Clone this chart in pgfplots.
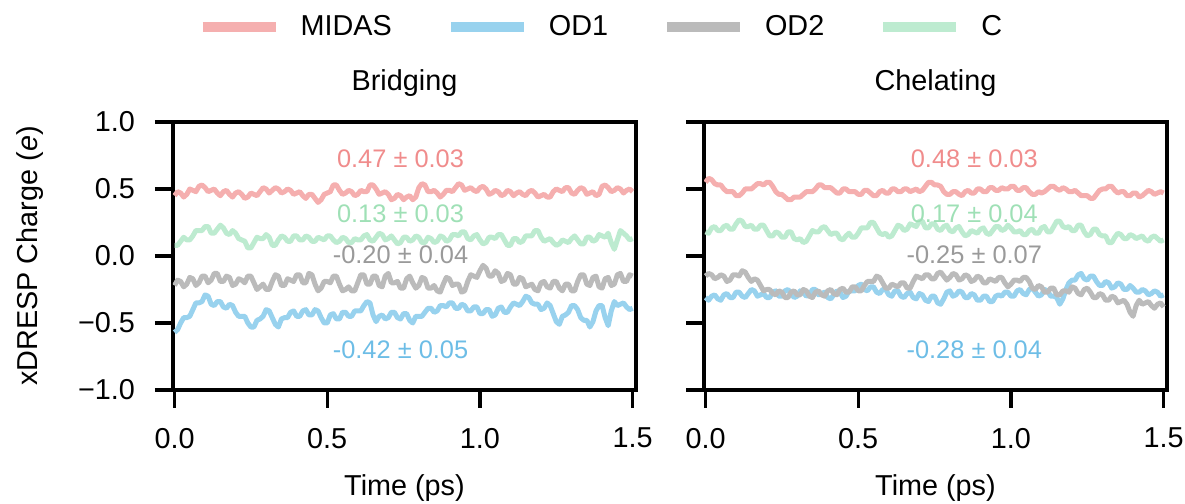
\documentclass[border=0pt]{standalone}
\usepackage{pgfplots}
\usepackage{pgfplotstable}
\pgfplotsset{compat=1.18}
\usepackage{fontspec}
\setmainfont{Liberation Sans}
\definecolor{cmidas}{HTML}{F5AFAF}
\definecolor{cod1}{HTML}{98D2EE}
\definecolor{cod2}{HTML}{BBBBBB}
\definecolor{cc}{HTML}{BDEBD0}
\definecolor{tmidas}{HTML}{F08C8C}
\definecolor{tod1}{HTML}{6DBDE6}
\definecolor{tod2}{HTML}{9A9A9A}
\definecolor{tc}{HTML}{9FE0B6}

\pgfplotstableread{
t midas od1 od2 c
0.00 0.45 -0.57 -0.22 0.08
0.01 0.48 -0.55 -0.18 0.08
0.02 0.47 -0.50 -0.19 0.11
0.03 0.44 -0.46 -0.23 0.14
0.04 0.46 -0.46 -0.21 0.12
0.05 0.50 -0.45 -0.16 0.12
0.06 0.49 -0.40 -0.17 0.15
0.07 0.48 -0.35 -0.22 0.19
0.08 0.52 -0.35 -0.20 0.19
0.09 0.53 -0.34 -0.15 0.19
0.10 0.51 -0.29 -0.15 0.22
0.11 0.48 -0.30 -0.20 0.22
0.12 0.49 -0.36 -0.18 0.17
0.13 0.50 -0.37 -0.13 0.17
0.14 0.47 -0.34 -0.13 0.20
0.15 0.45 -0.34 -0.19 0.23
0.16 0.48 -0.38 -0.19 0.21
0.17 0.49 -0.39 -0.15 0.17
0.18 0.46 -0.36 -0.16 0.16
0.19 0.44 -0.37 -0.22 0.19
0.20 0.47 -0.42 -0.21 0.17
0.21 0.48 -0.45 -0.17 0.13
0.22 0.46 -0.45 -0.18 0.12
0.23 0.43 -0.45 -0.20 0.11
0.24 0.44 -0.50 -0.15 0.06
0.25 0.47 -0.53 -0.15 0.06
0.26 0.46 -0.53 -0.20 0.10
0.27 0.45 -0.48 -0.25 0.14
0.28 0.48 -0.47 -0.23 0.13
0.29 0.51 -0.45 -0.21 0.13
0.30 0.50 -0.40 -0.25 0.16
0.31 0.47 -0.41 -0.25 0.14
0.32 0.49 -0.46 -0.19 0.08
0.33 0.51 -0.51 -0.14 0.08
0.34 0.50 -0.53 -0.15 0.12
0.35 0.47 -0.47 -0.22 0.15
0.36 0.48 -0.46 -0.22 0.14
0.37 0.50 -0.46 -0.17 0.11
0.38 0.49 -0.42 -0.18 0.11
0.39 0.46 -0.41 -0.19 0.15
0.40 0.47 -0.45 -0.14 0.15
0.41 0.48 -0.45 -0.14 0.12
0.42 0.45 -0.41 -0.20 0.12
0.43 0.43 -0.40 -0.20 0.15
0.44 0.46 -0.44 -0.13 0.14
0.45 0.46 -0.44 -0.14 0.11
0.46 0.43 -0.40 -0.21 0.11
0.47 0.40 -0.41 -0.26 0.14
0.48 0.42 -0.46 -0.24 0.13
0.49 0.46 -0.50 -0.19 0.12
0.50 0.47 -0.50 -0.19 0.15
0.51 0.48 -0.44 -0.20 0.15
0.52 0.53 -0.43 -0.15 0.12
0.53 0.53 -0.47 -0.15 0.10
0.54 0.49 -0.47 -0.21 0.11
0.55 0.46 -0.42 -0.26 0.14
0.56 0.47 -0.42 -0.25 0.13
0.57 0.49 -0.45 -0.23 0.10
0.58 0.48 -0.45 -0.26 0.10
0.59 0.45 -0.41 -0.26 0.13
0.60 0.46 -0.41 -0.20 0.12
0.61 0.49 -0.41 -0.14 0.12
0.62 0.48 -0.37 -0.14 0.15
0.63 0.48 -0.34 -0.21 0.16
0.64 0.53 -0.35 -0.21 0.12
0.65 0.53 -0.44 -0.15 0.11
0.66 0.50 -0.49 -0.15 0.14
0.67 0.46 -0.45 -0.22 0.17
0.68 0.47 -0.44 -0.23 0.16
0.69 0.48 -0.47 -0.15 0.12
0.70 0.46 -0.46 -0.13 0.13
0.71 0.42 -0.42 -0.20 0.15
0.72 0.43 -0.42 -0.20 0.12
0.73 0.46 -0.46 -0.19 0.09
0.74 0.45 -0.47 -0.24 0.10
0.75 0.42 -0.43 -0.24 0.14
0.76 0.44 -0.43 -0.17 0.14
0.77 0.45 -0.48 -0.15 0.11
0.78 0.42 -0.50 -0.20 0.12
0.79 0.44 -0.45 -0.24 0.15
0.80 0.51 -0.45 -0.22 0.14
0.81 0.54 -0.45 -0.16 0.10
0.82 0.53 -0.42 -0.17 0.10
0.83 0.48 -0.39 -0.24 0.14
0.84 0.48 -0.39 -0.24 0.13
0.85 0.49 -0.42 -0.22 0.10
0.86 0.47 -0.41 -0.26 0.11
0.87 0.44 -0.37 -0.27 0.15
0.88 0.46 -0.37 -0.21 0.14
0.89 0.49 -0.38 -0.16 0.11
0.90 0.49 -0.35 -0.17 0.12
0.91 0.48 -0.35 -0.22 0.16
0.92 0.51 -0.39 -0.21 0.16
0.93 0.54 -0.39 -0.21 0.15
0.94 0.53 -0.36 -0.27 0.18
0.95 0.49 -0.37 -0.26 0.18
0.96 0.50 -0.41 -0.19 0.13
0.97 0.51 -0.41 -0.14 0.12
0.98 0.49 -0.38 -0.15 0.15
0.99 0.48 -0.38 -0.16 0.16
1.00 0.51 -0.43 -0.11 0.12
1.01 0.52 -0.43 -0.07 0.09
1.02 0.50 -0.40 -0.09 0.10
1.03 0.46 -0.40 -0.15 0.14
1.04 0.47 -0.45 -0.15 0.14
1.05 0.49 -0.44 -0.11 0.13
1.06 0.48 -0.39 -0.13 0.16
1.07 0.45 -0.38 -0.19 0.16
1.08 0.46 -0.42 -0.18 0.12
1.09 0.49 -0.42 -0.13 0.08
1.10 0.48 -0.38 -0.14 0.08
1.11 0.45 -0.35 -0.21 0.13
1.12 0.47 -0.36 -0.21 0.13
1.13 0.48 -0.37 -0.16 0.10
1.14 0.46 -0.34 -0.17 0.11
1.15 0.45 -0.30 -0.23 0.15
1.16 0.48 -0.31 -0.22 0.15
1.17 0.49 -0.35 -0.21 0.15
1.18 0.47 -0.36 -0.25 0.19
1.19 0.44 -0.36 -0.26 0.19
1.20 0.45 -0.40 -0.20 0.14
1.21 0.46 -0.39 -0.19 0.11
1.22 0.44 -0.35 -0.23 0.12
1.23 0.44 -0.37 -0.24 0.13
1.24 0.48 -0.43 -0.19 0.10
1.25 0.50 -0.49 -0.19 0.08
1.26 0.49 -0.51 -0.24 0.09
1.27 0.48 -0.45 -0.26 0.12
1.28 0.51 -0.44 -0.21 0.11
1.29 0.51 -0.42 -0.21 0.10
1.30 0.47 -0.37 -0.26 0.13
1.31 0.46 -0.37 -0.26 0.15
1.32 0.49 -0.40 -0.19 0.12
1.33 0.51 -0.46 -0.14 0.09
1.34 0.50 -0.48 -0.14 0.09
1.35 0.46 -0.48 -0.21 0.14
1.36 0.47 -0.53 -0.22 0.14
1.37 0.48 -0.49 -0.16 0.11
1.38 0.45 -0.41 -0.15 0.12
1.39 0.46 -0.37 -0.23 0.16
1.40 0.52 -0.37 -0.24 0.15
1.41 0.53 -0.46 -0.17 0.14
1.42 0.51 -0.52 -0.16 0.17
1.43 0.48 -0.41 -0.22 0.10
1.44 0.49 -0.34 -0.21 0.05
1.45 0.51 -0.37 -0.14 0.12
1.46 0.50 -0.36 -0.13 0.19
1.47 0.47 -0.35 -0.19 0.17
1.48 0.49 -0.38 -0.19 0.15
1.49 0.50 -0.40 -0.14 0.12
1.50 0.48 -0.39 -0.15 0.13
}\bridging

\pgfplotstableread{
t midas od1 od2 c
0.00 0.55 -0.31 -0.15 0.18
0.01 0.58 -0.33 -0.13 0.17
0.02 0.57 -0.30 -0.14 0.21
0.03 0.54 -0.29 -0.17 0.22
0.04 0.53 -0.32 -0.16 0.19
0.05 0.53 -0.33 -0.14 0.19
0.06 0.50 -0.29 -0.15 0.22
0.07 0.48 -0.28 -0.19 0.23
0.08 0.48 -0.31 -0.18 0.20
0.09 0.48 -0.31 -0.14 0.20
0.10 0.45 -0.27 -0.14 0.24
0.11 0.45 -0.27 -0.15 0.27
0.12 0.47 -0.30 -0.11 0.26
0.13 0.50 -0.31 -0.12 0.22
0.14 0.50 -0.28 -0.16 0.22
0.15 0.50 -0.25 -0.19 0.23
0.16 0.52 -0.26 -0.17 0.20
0.17 0.54 -0.30 -0.18 0.20
0.18 0.54 -0.29 -0.22 0.23
0.19 0.53 -0.28 -0.26 0.23
0.20 0.55 -0.31 -0.25 0.19
0.21 0.55 -0.31 -0.25 0.15
0.22 0.52 -0.27 -0.28 0.15
0.23 0.48 -0.26 -0.29 0.18
0.24 0.46 -0.30 -0.26 0.17
0.25 0.46 -0.30 -0.27 0.14
0.26 0.44 -0.26 -0.31 0.14
0.27 0.42 -0.25 -0.31 0.18
0.28 0.42 -0.28 -0.27 0.18
0.29 0.44 -0.31 -0.26 0.13
0.30 0.44 -0.30 -0.29 0.12
0.31 0.44 -0.26 -0.29 0.13
0.32 0.46 -0.27 -0.25 0.10
0.33 0.48 -0.30 -0.26 0.11
0.34 0.48 -0.29 -0.30 0.15
0.35 0.48 -0.25 -0.31 0.19
0.36 0.50 -0.25 -0.27 0.18
0.37 0.53 -0.29 -0.26 0.18
0.38 0.53 -0.28 -0.29 0.21
0.39 0.51 -0.27 -0.30 0.22
0.40 0.51 -0.31 -0.26 0.19
0.41 0.51 -0.32 -0.25 0.16
0.42 0.49 -0.29 -0.28 0.17
0.43 0.47 -0.26 -0.29 0.17
0.44 0.47 -0.27 -0.25 0.13
0.45 0.50 -0.31 -0.24 0.12
0.46 0.50 -0.30 -0.27 0.15
0.47 0.48 -0.26 -0.27 0.17
0.48 0.48 -0.26 -0.23 0.14
0.49 0.48 -0.26 -0.23 0.14
0.50 0.46 -0.22 -0.26 0.17
0.51 0.46 -0.21 -0.26 0.21
0.52 0.49 -0.25 -0.22 0.21
0.53 0.49 -0.26 -0.19 0.21
0.54 0.47 -0.23 -0.19 0.25
0.55 0.45 -0.23 -0.19 0.25
0.56 0.45 -0.27 -0.15 0.21
0.57 0.48 -0.28 -0.16 0.17
0.58 0.49 -0.25 -0.20 0.16
0.59 0.47 -0.25 -0.24 0.17
0.60 0.47 -0.29 -0.24 0.14
0.61 0.50 -0.30 -0.21 0.15
0.62 0.50 -0.26 -0.22 0.19
0.63 0.48 -0.26 -0.23 0.23
0.64 0.48 -0.30 -0.20 0.22
0.65 0.50 -0.31 -0.20 0.19
0.66 0.50 -0.28 -0.24 0.20
0.67 0.48 -0.27 -0.24 0.24
0.68 0.49 -0.31 -0.19 0.23
0.69 0.50 -0.32 -0.15 0.22
0.70 0.48 -0.28 -0.16 0.26
0.71 0.49 -0.29 -0.17 0.26
0.72 0.52 -0.33 -0.14 0.21
0.73 0.55 -0.34 -0.14 0.21
0.74 0.55 -0.30 -0.17 0.24
0.75 0.53 -0.30 -0.17 0.24
0.76 0.53 -0.35 -0.13 0.20
0.77 0.52 -0.36 -0.12 0.19
0.78 0.48 -0.32 -0.15 0.22
0.79 0.46 -0.27 -0.18 0.23
0.80 0.46 -0.26 -0.16 0.19
0.81 0.48 -0.30 -0.13 0.18
0.82 0.48 -0.29 -0.14 0.21
0.83 0.46 -0.26 -0.18 0.22
0.84 0.45 -0.27 -0.17 0.18
0.85 0.48 -0.31 -0.14 0.15
0.86 0.49 -0.31 -0.15 0.16
0.87 0.47 -0.28 -0.19 0.19
0.88 0.47 -0.29 -0.18 0.18
0.89 0.50 -0.33 -0.15 0.17
0.90 0.50 -0.33 -0.16 0.20
0.91 0.48 -0.30 -0.20 0.21
0.92 0.48 -0.30 -0.20 0.17
0.93 0.51 -0.34 -0.17 0.16
0.94 0.51 -0.34 -0.18 0.19
0.95 0.49 -0.30 -0.19 0.22
0.96 0.49 -0.29 -0.16 0.22
0.97 0.51 -0.30 -0.16 0.19
0.98 0.50 -0.27 -0.20 0.20
0.99 0.50 -0.27 -0.23 0.23
1.00 0.52 -0.30 -0.21 0.21
1.01 0.52 -0.30 -0.18 0.18
1.02 0.49 -0.26 -0.18 0.18
1.03 0.49 -0.25 -0.19 0.19
1.04 0.51 -0.28 -0.16 0.16
1.05 0.51 -0.29 -0.16 0.16
1.06 0.48 -0.25 -0.19 0.19
1.07 0.46 -0.24 -0.24 0.20
1.08 0.46 -0.27 -0.25 0.17
1.09 0.48 -0.30 -0.22 0.17
1.10 0.47 -0.29 -0.23 0.21
1.11 0.48 -0.25 -0.27 0.22
1.12 0.50 -0.26 -0.27 0.18
1.13 0.52 -0.30 -0.24 0.18
1.14 0.52 -0.30 -0.24 0.22
1.15 0.50 -0.31 -0.29 0.26
1.16 0.49 -0.36 -0.29 0.26
1.17 0.51 -0.32 -0.26 0.22
1.18 0.50 -0.25 -0.26 0.21
1.19 0.48 -0.20 -0.27 0.22
1.20 0.48 -0.18 -0.23 0.19
1.21 0.49 -0.18 -0.24 0.19
1.22 0.47 -0.14 -0.28 0.23
1.23 0.45 -0.13 -0.29 0.23
1.24 0.45 -0.17 -0.25 0.18
1.25 0.45 -0.18 -0.24 0.15
1.26 0.43 -0.15 -0.27 0.16
1.27 0.43 -0.15 -0.31 0.20
1.28 0.46 -0.19 -0.31 0.20
1.29 0.49 -0.22 -0.28 0.16
1.30 0.50 -0.22 -0.29 0.15
1.31 0.50 -0.19 -0.33 0.15
1.32 0.52 -0.20 -0.33 0.10
1.33 0.52 -0.24 -0.30 0.10
1.34 0.49 -0.23 -0.31 0.14
1.35 0.47 -0.20 -0.35 0.17
1.36 0.48 -0.21 -0.34 0.16
1.37 0.48 -0.25 -0.33 0.13
1.38 0.45 -0.25 -0.36 0.13
1.39 0.45 -0.22 -0.42 0.16
1.40 0.47 -0.24 -0.45 0.15
1.41 0.47 -0.27 -0.37 0.13
1.42 0.44 -0.27 -0.33 0.14
1.43 0.45 -0.25 -0.36 0.15
1.44 0.47 -0.26 -0.35 0.12
1.45 0.49 -0.29 -0.34 0.11
1.46 0.48 -0.28 -0.37 0.14
1.47 0.46 -0.26 -0.39 0.15
1.48 0.47 -0.27 -0.36 0.13
1.49 0.48 -0.30 -0.35 0.11
1.50 0.47 -0.29 -0.38 0.12
}\chelating

\newcommand{\lblfont}{\fontsize{14.4}{16}\selectfont}
\newcommand{\annfont}{\fontsize{12.7}{14}\selectfont}

\pgfplotsset{
  panel/.style={
    scale only axis,
    width=231.5pt, height=134pt,
    anchor=south west,
    xmin=-0.005, xmax=1.511,
    ymin=-1, ymax=1,
    xtick={0,0.5,1,1.5},
    xticklabels={0.0,0.5,1.0,1.5},
    ytick={-1,-0.5,0,0.5,1},
    axis line style={line width=1.6pt},
    every tick/.style={line width=1.6pt, black},
    tick align=outside,
    major tick length=9pt,
    xtick pos=bottom, ytick pos=left,
    ticklabel style={font=\lblfont},
    xticklabel style={yshift=-6.5pt},
    yticklabel style={xshift=-6.5pt},
    label style={font=\lblfont},
    title style={font=\lblfont, at={(axis description cs:0.5,1.101)}, anchor=center},
    xlabel={Time (ps)},
    xlabel style={at={(axis description cs:0.5,-0.366)}, anchor=center},
    every axis plot/.append style={line width=2.5pt, line join=round, no markers},
  }
}

\begin{document}
\begin{tikzpicture}
\path[use as bounding box] (0pt,0pt) rectangle (592.5pt,252pt);
\begin{axis}[panel, at={(86.5pt,57pt)},
  title={Bridging},
  yticklabels={−1.0,−0.5,0.0,0.5,1.0},
  ylabel={xDRESP Charge (\textit{e})},
  ylabel style={at={(axis description cs:-0.309,0.5)}, anchor=center, rotate=0},
  legend columns=4,
  legend style={at={(axis description cs:0.922,1.354)}, anchor=center, draw=none, fill=none,
    font=\lblfont, inner sep=0pt,
    nodes={inner sep=0pt},
    /tikz/every odd column/.append style={column sep=10pt},
    /tikz/every even column/.append style={column sep=27pt}},
  legend image code/.code={\draw[line width=5pt] (0pt,0pt) -- (36.5pt,0pt);},
]
\addplot[cmidas] table[x=t, y=midas] {\bridging};
\addlegendentry{MIDAS}
\addplot[cod1] table[x=t, y=od1] {\bridging};
\addlegendentry{OD1}
\addplot[cod2] table[x=t, y=od2] {\bridging};
\addlegendentry{OD2}
\addplot[cc] table[x=t, y=c] {\bridging};
\addlegendentry{C}
\node[text=tmidas, font=\annfont] at (axis cs:0.74,0.7275) {0.47 ± 0.03};
\node[text=tc, font=\annfont] at (axis cs:0.74,0.315) {0.13 ± 0.03};
\node[text=tod2, font=\annfont] at (axis cs:0.74,0.0075) {-0.20 ± 0.04};
\node[text=tod1, font=\annfont] at (axis cs:0.74,-0.6975) {-0.42 ± 0.05};
\end{axis}
\begin{axis}[panel, at={(352pt,57pt)},
  title={Chelating},
  yticklabels={},
]
\addplot[cmidas] table[x=t, y=midas] {\chelating};
\addplot[cod1] table[x=t, y=od1] {\chelating};
\addplot[cod2] table[x=t, y=od2] {\chelating};
\addplot[cc] table[x=t, y=c] {\chelating};
\node[text=tmidas, font=\annfont] at (axis cs:0.88,0.7275) {0.48 ± 0.03};
\node[text=tc, font=\annfont] at (axis cs:0.88,0.315) {0.17 ± 0.04};
\node[text=tod2, font=\annfont] at (axis cs:0.88,0.0075) {-0.25 ± 0.07};
\node[text=tod1, font=\annfont] at (axis cs:0.88,-0.6975) {-0.28 ± 0.04};
\end{axis}
\end{tikzpicture}
\end{document}
